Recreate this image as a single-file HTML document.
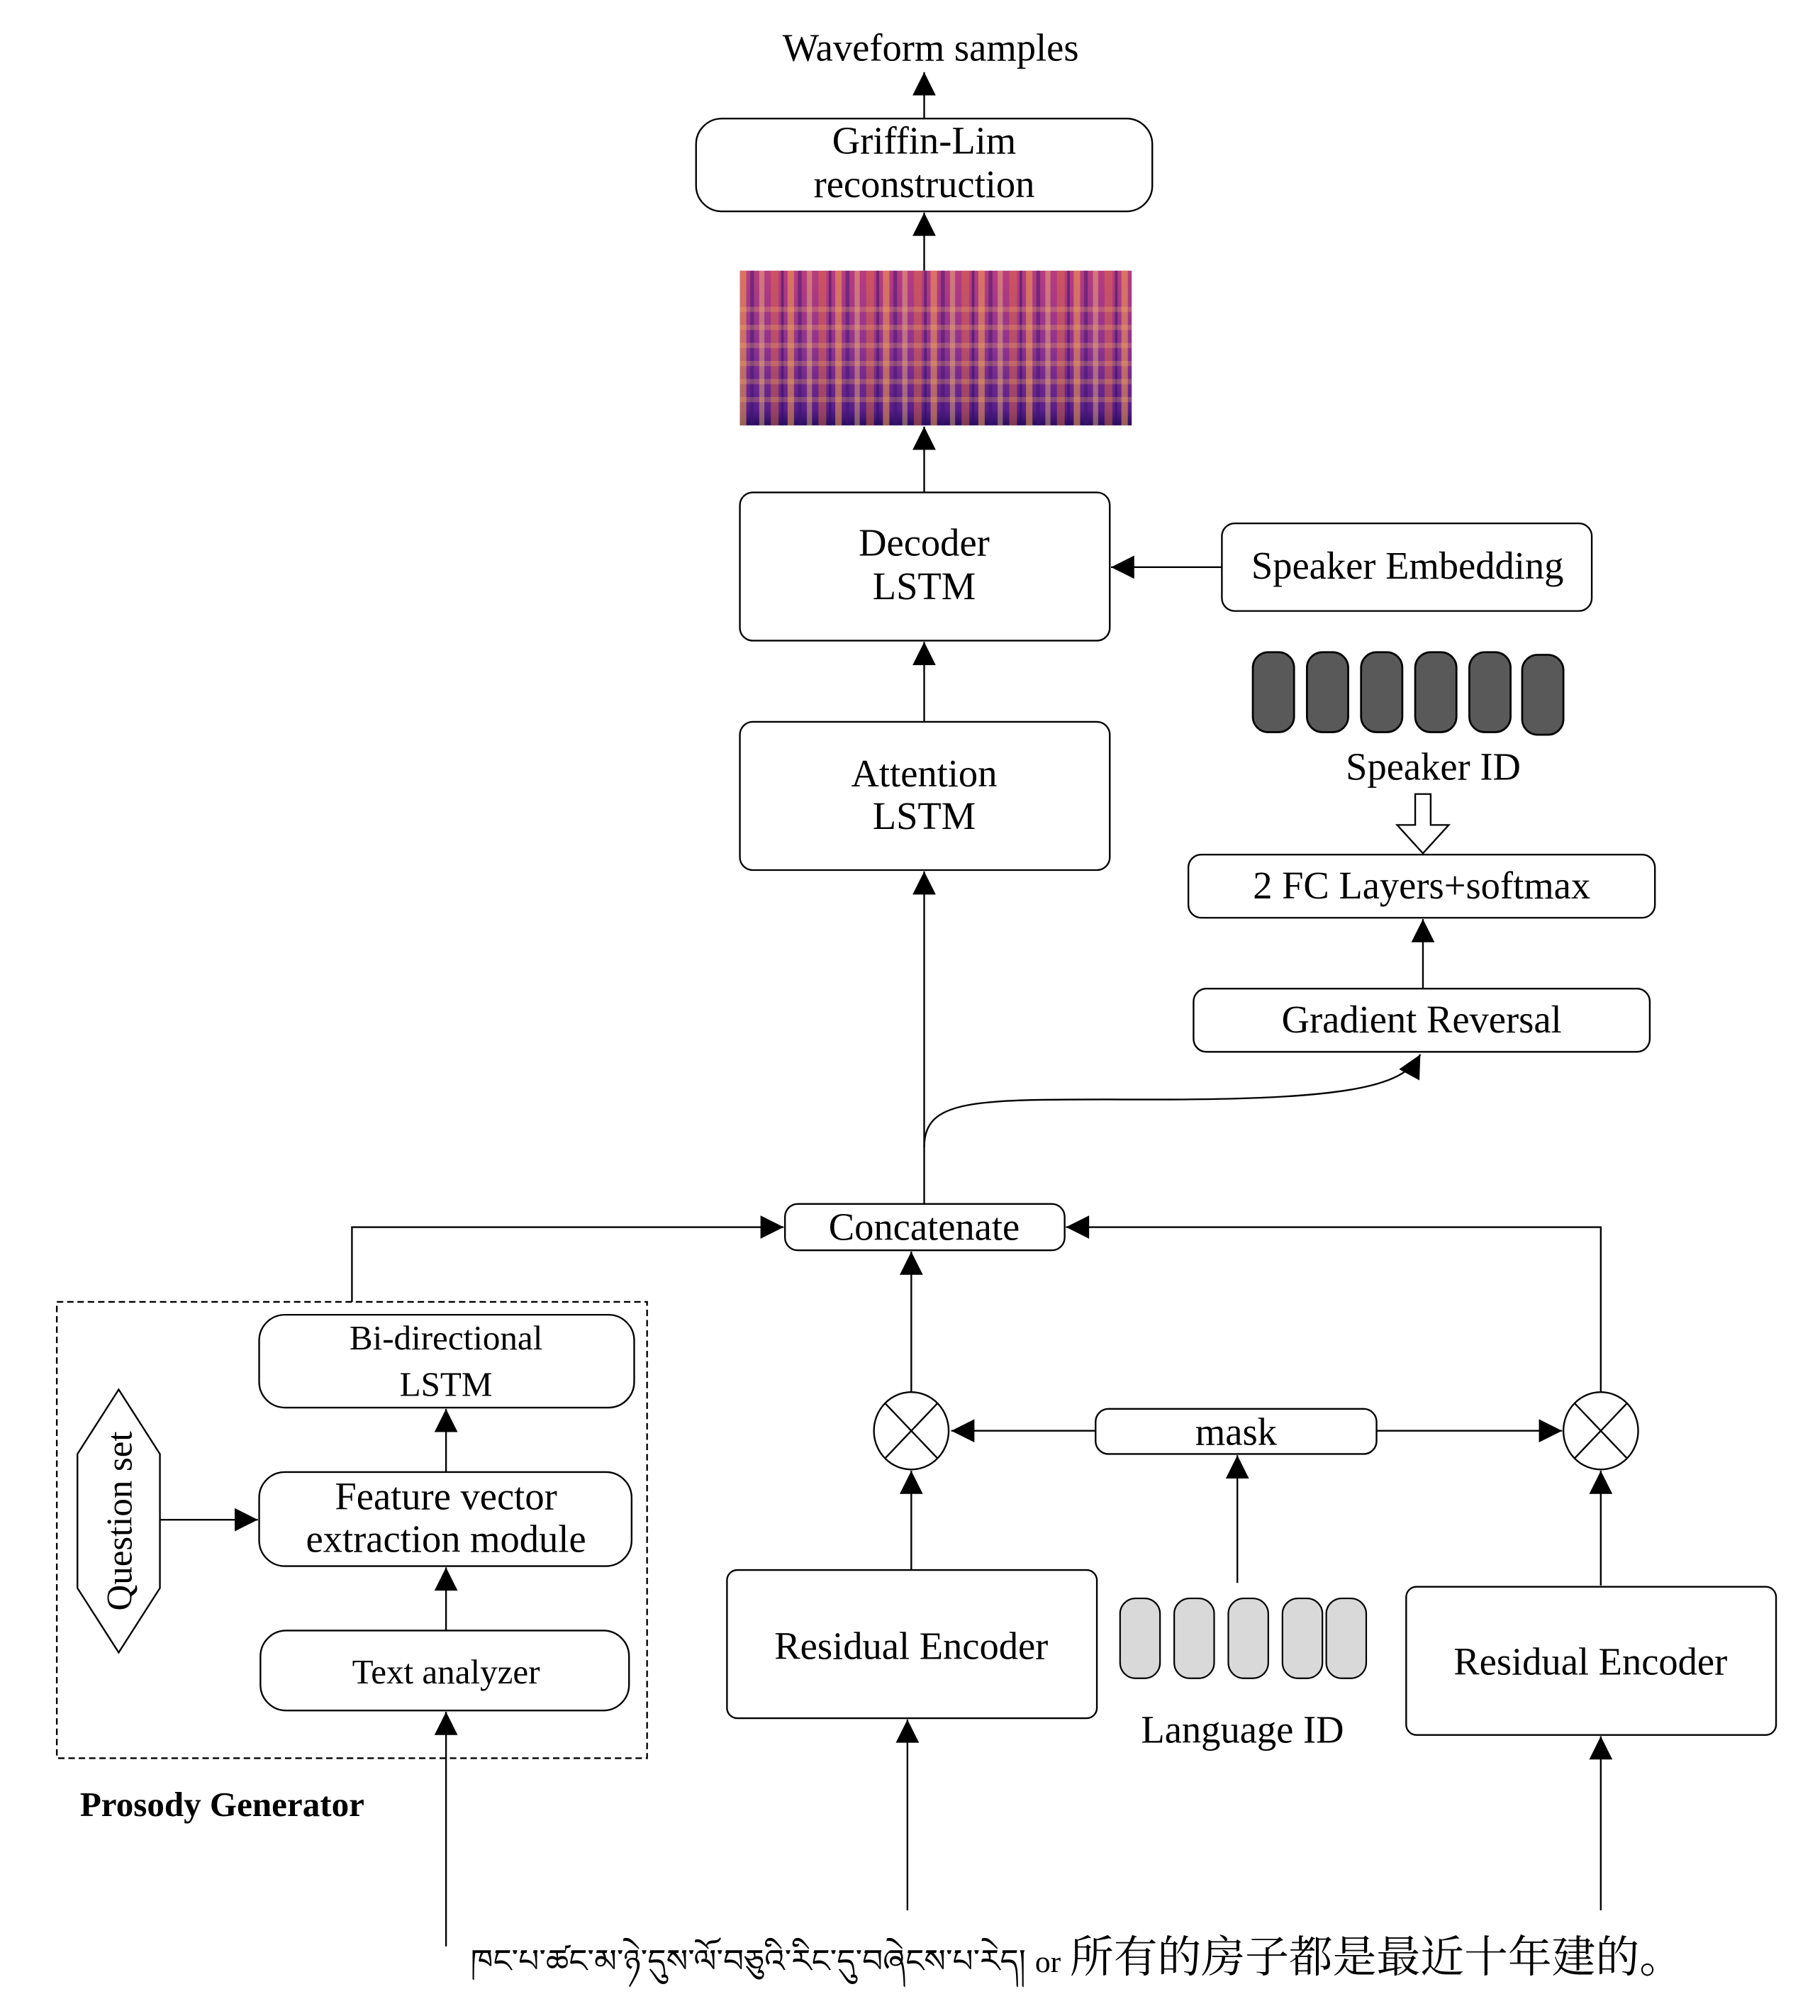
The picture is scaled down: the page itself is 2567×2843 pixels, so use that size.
<!DOCTYPE html>
<html><head><meta charset="utf-8">
<style>
html,body{margin:0;padding:0;background:#fff;}
svg{display:block;}
text{font-family:"Liberation Serif","Noto Serif CJK SC",serif;fill:#000;}
</style></head>
<body>
<svg width="2567" height="2843" viewBox="0 0 1412 1564" xmlns="http://www.w3.org/2000/svg">
<defs>
<marker id="a" viewBox="0 0 10 10" refX="10" refY="5" markerWidth="20" markerHeight="18" markerUnits="userSpaceOnUse" orient="auto"><path d="M0,0 L10,5 L0,10 z" fill="#000"/></marker>
<linearGradient id="sv" x1="0" y1="0" x2="0" y2="1">
<stop offset="0" stop-color="#b83c80"/><stop offset="0.5" stop-color="#8e3290"/><stop offset="0.9" stop-color="#5a1e8a"/><stop offset="1" stop-color="#2a0c60"/></linearGradient>
<pattern id="st" width="37" height="120" patternUnits="userSpaceOnUse" x="574" y="210">
<rect x="0" y="0" width="5" height="120" fill="#f6a04a" opacity="0.55"/>
<rect x="8" y="0" width="3" height="120" fill="#3a1570" opacity="0.5"/>
<rect x="15" y="0" width="4" height="120" fill="#ffd070" opacity="0.4"/>
<rect x="24" y="0" width="6" height="120" fill="#e8703a" opacity="0.45"/>
<rect x="32" y="0" width="2" height="120" fill="#2a0c60" opacity="0.5"/>
</pattern>
<pattern id="hb" width="300" height="14" patternUnits="userSpaceOnUse" x="574" y="210">
<rect x="0" y="0" width="300" height="4" fill="#ffc060" opacity="0.25"/>
</pattern>
</defs>
<g fill="none" stroke="#000" stroke-width="1.3">
<text x="722" y="47" font-size="30" text-anchor="middle" stroke="none">Waveform samples</text>
<line x1="717" y1="92" x2="717" y2="56" marker-end="url(#a)"/>
<rect x="540" y="92" width="354" height="72" rx="20"/>
<line x1="717" y1="210" x2="717" y2="165" marker-end="url(#a)"/>
<rect x="574" y="210" width="304" height="120" fill="url(#sv)" stroke="none"/>
<rect x="574" y="210" width="304" height="120" fill="url(#st)" stroke="none"/>
<rect x="574" y="230" width="304" height="90" fill="url(#hb)" stroke="none"/>
<line x1="717" y1="382" x2="717" y2="331" marker-end="url(#a)"/>
<rect x="574" y="382" width="287" height="115" rx="10"/>
<rect x="948" y="406" width="287" height="68" rx="10"/>
<line x1="948" y1="440" x2="862" y2="440" marker-end="url(#a)"/>
<line x1="717" y1="560" x2="717" y2="498" marker-end="url(#a)"/>
<rect x="574" y="560" width="287" height="115" rx="10"/>
<line x1="717" y1="934" x2="717" y2="676" marker-end="url(#a)"/>
<g fill="#595959" stroke="#000" stroke-width="1.5">
<rect x="972" y="506" width="32" height="62" rx="12"/>
<rect x="1014" y="506" width="32" height="62" rx="12"/>
<rect x="1056" y="506" width="32" height="62" rx="12"/>
<rect x="1098" y="506" width="32" height="62" rx="12"/>
<rect x="1140" y="506" width="32" height="62" rx="12"/>
<rect x="1181" y="508" width="32" height="62" rx="12"/>
</g>
<path d="M1098,616 L1110,616 L1110,640 L1124,640 L1104,662 L1084,640 L1098,640 Z" fill="#fff"/>
<rect x="922" y="663" width="362" height="49" rx="10"/>
<line x1="1104" y1="767" x2="1104" y2="713" marker-end="url(#a)"/>
<rect x="926" y="767" width="354" height="49" rx="10"/>
<path d="M717,890 C717,850 760,853 900,853 C1060,853 1090,840 1102,818" marker-end="url(#a)"/>
<rect x="609" y="934" width="217" height="36" rx="10"/>
<polyline points="273,1010 273,952 608,952" marker-end="url(#a)"/>
<polyline points="1242,1080 1242,952 827,952" marker-end="url(#a)"/>
<rect x="44" y="1010" width="458" height="354" stroke-dasharray="5,3"/>
<rect x="201" y="1020" width="291" height="72" rx="20"/>
<line x1="346" y1="1142" x2="346" y2="1093" marker-end="url(#a)"/>
<rect x="201" y="1142" width="289" height="73" rx="20"/>
<line x1="346" y1="1265" x2="346" y2="1216" marker-end="url(#a)"/>
<rect x="202" y="1265" width="286" height="62" rx="20"/>
<line x1="346" y1="1510" x2="346" y2="1328" marker-end="url(#a)"/>
<polygon points="92,1078 124,1128 124,1232 92,1282 60,1232 60,1128"/>
<line x1="124" y1="1179" x2="200" y2="1179" marker-end="url(#a)"/>
<ellipse cx="707" cy="1110" rx="29" ry="30"/>
<line x1="687" y1="1089" x2="727" y2="1131"/><line x1="727" y1="1089" x2="687" y2="1131"/>
<ellipse cx="1242" cy="1110" rx="29" ry="30"/>
<line x1="1222" y1="1089" x2="1262" y2="1131"/><line x1="1262" y1="1089" x2="1222" y2="1131"/>
<rect x="850" y="1093" width="218" height="35" rx="10"/>
<line x1="850" y1="1110" x2="738" y2="1110" marker-end="url(#a)"/>
<line x1="1068" y1="1110" x2="1212" y2="1110" marker-end="url(#a)"/>
<line x1="960" y1="1228" x2="960" y2="1129" marker-end="url(#a)"/>
<line x1="707" y1="1218" x2="707" y2="1141" marker-end="url(#a)"/>
<line x1="707" y1="1080" x2="707" y2="971" marker-end="url(#a)"/>
<line x1="1242" y1="1230" x2="1242" y2="1141" marker-end="url(#a)"/>
<rect x="564" y="1218" width="287" height="115" rx="8"/>
<rect x="1091" y="1231" width="287" height="115" rx="8"/>
<line x1="704" y1="1482" x2="704" y2="1334" marker-end="url(#a)"/>
<line x1="1242" y1="1482" x2="1242" y2="1347" marker-end="url(#a)"/>
<g fill="#d9d9d9" stroke="#000" stroke-width="1.2">
<rect x="869" y="1240" width="31" height="62" rx="12"/>
<rect x="911" y="1240" width="31" height="62" rx="12"/>
<rect x="953" y="1240" width="31" height="62" rx="12"/>
<rect x="995" y="1240" width="31" height="62" rx="12"/>
<rect x="1029" y="1240" width="31" height="62" rx="12"/>
</g>
</g>
<g font-size="30" text-anchor="middle">
<text x="717" y="119">Griffin-Lim</text>
<text x="717" y="153">reconstruction</text>
<text x="717" y="431">Decoder</text>
<text x="717" y="465">LSTM</text>
<text x="1092" y="449">Speaker Embedding</text>
<text x="717" y="610">Attention</text>
<text x="717" y="643">LSTM</text>
<text x="1112" y="605">Speaker ID</text>
<text x="1103" y="697">2 FC Layers+softmax</text>
<text x="1103" y="801">Gradient Reversal</text>
<text x="717" y="962">Concatenate</text>
<text x="959" y="1121">mask</text>
<text x="707" y="1287">Residual Encoder</text>
<text x="1234" y="1299">Residual Encoder</text>
<text x="964" y="1352">Language ID</text>
<text x="346" y="1171">Feature vector</text>
<text x="346" y="1204">extraction module</text>
<text x="346" y="1047" font-size="27">Bi-directional</text>
<text x="346" y="1083" font-size="27">LSTM</text>
<text x="346" y="1306" font-size="27">Text analyzer</text>
<text transform="translate(102,1180) rotate(-90)" font-size="28">Question set</text>
</g>
<text x="62" y="1409" font-size="27" font-weight="bold">Prosody Generator</text>
<text x="365" y="1530" font-size="25">ཁང་པ་ཚང་མ་ཉེ་དུས་ལོ་བཅུའི་རིང་དུ་བཞེངས་པ་རེད།</text>
<text x="803" y="1530" font-size="24">or</text>
<text x="830" y="1530" font-size="34" font-family="'Noto Serif CJK SC','Noto Sans CJK SC',serif">所有的房子都是最近十年建的。</text>
</svg>
</body></html>
